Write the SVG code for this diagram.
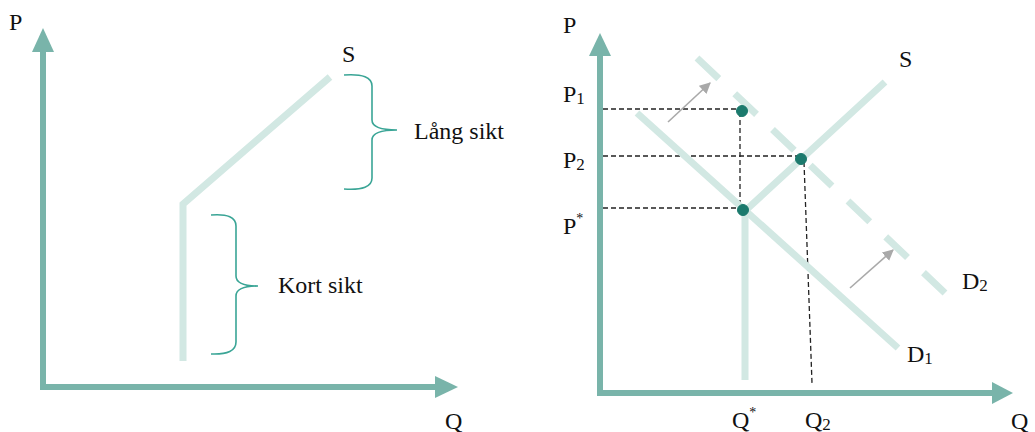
<svg xmlns="http://www.w3.org/2000/svg" width="1035" height="432" viewBox="0 0 1035 432">
<defs>
<style>
.axis{stroke:#79B4AA;stroke-width:6;fill:none}
.axhead{fill:#79B4AA}
.curve{stroke:#D2E8E3;stroke-width:7;fill:none;stroke-linecap:butt;stroke-linejoin:miter}
.brace{stroke:#3AA596;stroke-width:1.6;fill:none}
.guide{stroke:#222;stroke-width:1.3;stroke-dasharray:5 3;fill:none}
.shift{stroke:#A9A9A9;stroke-width:1.6;fill:none}
.dot{fill:#1B7A6D;stroke:#1B7A6D;stroke-width:1}
text{font-family:"Liberation Serif","Times New Roman",serif;font-size:24px;fill:#111}
.sub{font-size:17px}
.sup{font-size:14px}
</style>
<marker id="gr" viewBox="0 0 10 10" refX="9" refY="5" markerWidth="7" markerHeight="7" orient="auto" markerUnits="strokeWidth">
<path d="M0,0 L10,5 L0,10 z" fill="#A9A9A9"/>
</marker>
</defs>
<g id="left-panel">
<g id="left-axes">
<line class="axis" x1="43" y1="50" x2="43" y2="390"/>
<polygon class="axhead" points="43,28 32,52 54,52"/>
<line class="axis" x1="40" y1="387" x2="437" y2="387"/>
<polygon class="axhead" points="458,387 435,376 435,398"/>
<text x="9" y="30">P</text>
<text x="445" y="429">Q</text>
</g>
<g id="left-supply">
<polyline class="curve" points="183,361 183,204 330,77"/>
<text x="342" y="62">S</text>
</g>
<g id="brace-long">
<path class="brace" d="M344,75 Q372,73 372,86 L372,120 Q372,130 397,130 Q372,130 372,140 L372,178 Q372,191 344,189"/>
<text x="414" y="139">Lång sikt</text>
</g>
<g id="brace-short">
<path class="brace" d="M211,215 Q236,213 236,226 L236,276 Q236,286 258,286 Q236,286 236,296 L236,342 Q236,355 211,354"/>
<text x="278" y="293">Kort sikt</text>
</g>
</g>
<g id="right-panel">
<g id="right-axes">
<line class="axis" x1="600" y1="54" x2="600" y2="396"/>
<polygon class="axhead" points="600,33 589,56 611,56"/>
<line class="axis" x1="597" y1="393" x2="994" y2="393"/>
<polygon class="axhead" points="1013,393 992,382 992,404"/>
<text x="563" y="33">P</text>
<text x="1011" y="429">Q</text>
</g>
<g id="connectors">
<line class="guide" x1="603" y1="109" x2="740" y2="109"/>
<line class="guide" x1="603" y1="156" x2="800" y2="156"/>
<line class="guide" x1="603" y1="208" x2="742" y2="208"/>
<line class="guide" x1="740" y1="112" x2="740" y2="208"/>
<line class="guide" x1="804" y1="162" x2="812" y2="383"/>
<line class="shift" x1="668" y1="122" x2="710" y2="83" marker-end="url(#gr)"/>
<line class="shift" x1="850" y1="288" x2="893" y2="250" marker-end="url(#gr)"/>
</g>
<g id="supply-right">
<polyline class="curve" points="745,380 745,211 885,82"/>
<text x="899" y="67">S</text>
</g>
<g id="demand-d1">
<line class="curve" x1="637" y1="113" x2="898" y2="348"/>
<text x="907" y="362">D<tspan class="sub" dy="2">1</tspan></text>
</g>
<g id="demand-d2">
<line class="curve" x1="697" y1="58" x2="945" y2="293" stroke-dasharray="30 22"/>
<text x="962" y="289">D<tspan class="sub" dy="2">2</tspan></text>
</g>
<g id="point-p1"><circle class="dot" cx="742" cy="111" r="5.5"/></g>
<g id="point-p2"><circle class="dot" cx="801" cy="159" r="5.5"/></g>
<g id="point-pstar"><circle class="dot" cx="743" cy="210" r="5.5"/></g>
<g id="price-labels">
<text x="563" y="102">P<tspan class="sub" dy="2">1</tspan></text>
<text x="563" y="168">P<tspan class="sub" dy="2">2</tspan></text>
<text x="563" y="234">P<tspan class="sup" dy="-11">*</tspan></text>
</g>
<g id="quantity-labels">
<text x="732" y="428">Q<tspan class="sup" dy="-11">*</tspan></text>
<text x="805" y="428">Q<tspan class="sub" dy="2">2</tspan></text>
</g>
</g>
</svg>
